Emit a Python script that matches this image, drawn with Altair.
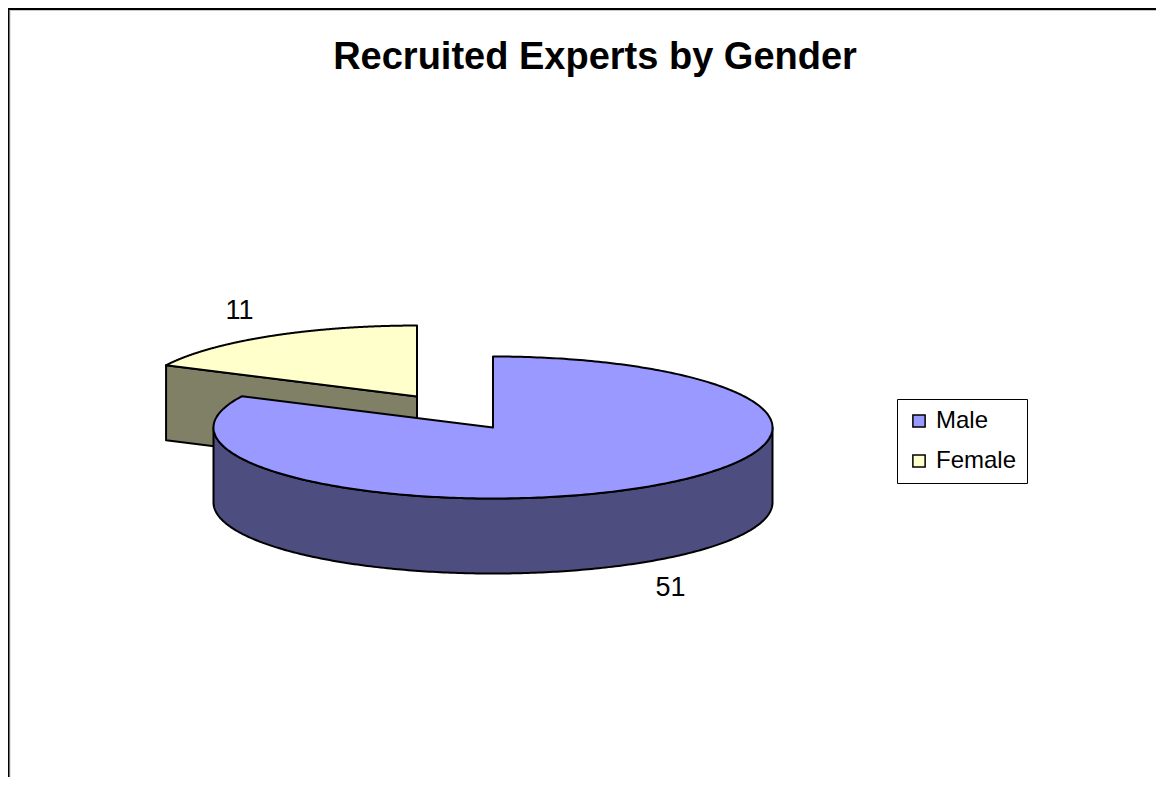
import altair as alt
import numpy as np

# ---- data ----
categories = ["Male", "Female"]
counts = [51, 11]
top_colors = ["#9999FF", "#FFFFCC"]
side_colors = ["#4D4D80", "#808066"]
title_text = "Recruited Experts by Gender"

# ---- 3-D pie layout (units of the horizontal radius) ----
RY = 71 / 279.5        # vertical radius of the tilted top
DEPTH = 75 / 279.5     # thickness of the pie
EXPLODE = [0.0, 0.514] # explosion of each slice along its bisector
LABEL_RX = 1.2
LABEL_RY = 1.42
W, H = 1148, 769

total = float(sum(counts))
bounds = np.concatenate([[0.0], np.cumsum(counts)]) / total * 2 * np.pi


def pt(theta, ox, oy, dz=0.0):
    return [float(ox + np.sin(theta)), float(oy - RY * np.cos(theta) + dz)]


def feature(face, ring):
    return {"type": "Feature", "properties": {"face": face},
            "geometry": {"type": "Polygon", "coordinates": [ring]}}


slices = []
for i, cat in enumerate(categories):
    a0, a1 = bounds[i], bounds[i + 1]
    mid = (a0 + a1) / 2
    ox = EXPLODE[i] * np.sin(mid)
    oy = -EXPLODE[i] * RY * np.cos(mid)
    v = [float(ox), float(oy)]
    vb = [float(ox), float(oy + DEPTH)]
    sides = []
    # cut faces
    for a, sgn in ((a0, -1), (a1, 1)):
        if sgn * np.sin(a) > 1e-6:
            ring = [v, pt(a, ox, oy), pt(a, ox, oy, DEPTH), vb, v]
            sides.append(feature(cat + " side", ring))
    # curved front wall
    t0, t1 = max(a0, np.pi / 2), min(a1, 3 * np.pi / 2)
    if t1 > t0:
        ts = np.linspace(t0, t1, 240)
        ring = [pt(t, ox, oy) for t in ts] + [pt(t, ox, oy, DEPTH) for t in ts[::-1]]
        ring.append(ring[0])
        sides.append(feature(cat + " side", ring))
    ts = np.linspace(a0, a1, 360)
    top = feature(cat, [v] + [pt(t, ox, oy) for t in ts] + [v])
    # label
    lx = ox + LABEL_RX * np.sin(mid)
    ly = oy - LABEL_RY * RY * np.cos(mid) + (DEPTH if np.cos(mid) < 0 else 0.0)
    slices.append({"oy": oy, "sides": sides, "top": top,
                   "label": {"lon": float(lx), "lat": float(ly), "text": str(counts[i])}})

features = []
for s in sorted(slices, key=lambda s: s["oy"]):
    features += s["sides"] + [s["top"]]
labels = [s["label"] for s in slices]

face_domain = categories + [c + " side" for c in categories]
face_range = top_colors + side_colors

pie = alt.Chart(alt.Data(values=features)).mark_geoshape(
    stroke="black", strokeWidth=2, strokeJoin="round", fillOpacity=1
).encode(
    fill=alt.Fill(
        "properties.face:N",
        scale=alt.Scale(domain=face_domain, range=face_range),
        title=None,
        legend=alt.Legend(
            values=categories, orient="none", legendX=889, legendY=391,
            strokeColor="black", fillColor="white", padding=10,
            symbolType="square", symbolSize=150, symbolStrokeColor="black",
            symbolStrokeWidth=1.5, symbolOpacity=1, labelFontSize=24,
            labelFont="Liberation Sans", labelColor="black", labelOffset=5,
            rowPadding=16,
        ),
    )
)

text = alt.Chart(alt.Data(values=labels)).mark_text(
    fontSize=27, font="Liberation Sans", color="black", align="center", baseline="middle"
).encode(longitude="lon:Q", latitude="lat:Q", text="text:N")

title = alt.Chart(alt.Data(values=[{"t": title_text}])).mark_text(
    fontSize=38, font="Liberation Sans", fontWeight="bold", color="black",
    align="center", baseline="alphabetic"
).encode(x=alt.value(587), y=alt.value(61), text="t:N")

border_data = alt.Data(values=[{"k": 1}])
top_rule = alt.Chart(border_data).mark_rule(color="black", strokeWidth=2).encode(
    x=alt.value(0), x2=alt.value(W), y=alt.value(1))
left_rule = alt.Chart(border_data).mark_rule(color="black", strokeWidth=2).encode(
    x=alt.value(0.5), y=alt.value(0), y2=alt.value(H))
top_shadow = alt.Chart(border_data).mark_rule(color="#C8C8C8", strokeWidth=1).encode(
    x=alt.value(2), x2=alt.value(W), y=alt.value(2.5))
left_shadow = alt.Chart(border_data).mark_rule(color="#C8C8C8", strokeWidth=1).encode(
    x=alt.value(2), y=alt.value(2), y2=alt.value(H))

chart = alt.layer(top_shadow, left_shadow, top_rule, left_rule, pie, text, title).project(
    type="identity", scale=279.5, translate=[485, 419.5]
).properties(
    width=W, height=H, autosize="none", padding=0, background="white"
).configure_view(strokeWidth=0)

chart.save("out.html", embed_options={"renderer": "svg", "actions": False})
